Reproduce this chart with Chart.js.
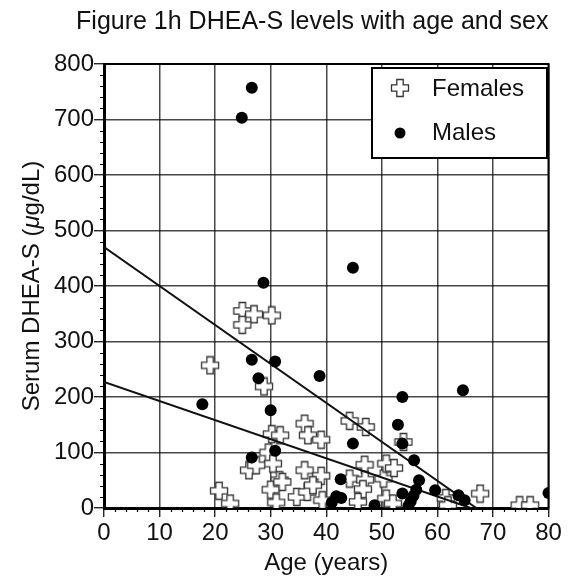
<!DOCTYPE html>
<html>
<head>
<meta charset="utf-8">
<script src="https://cdn.jsdelivr.net/npm/chart.js@4/dist/chart.umd.min.js"></script>
<style>
  html, body { margin: 0; padding: 0; background: #fff; }
  #wrap { width: 568px; height: 578px; }
</style>
</head>
<body>
<div id="wrap"><canvas id="dhea" width="568" height="578"></canvas></div>
<script>
const FONT = '"Liberation Sans", Arial, Helvetica, sans-serif';
const FS = 24;

/* ── DATA ── */
const femaleAge  = [24.9, 27.0, 30.2, 24.9, 19.1, 28.8, 30.2, 31.7, 29.6, 30.4, 26.1, 27.4, 20.7, 22.7, 31.6, 30.0, 31.0,
                    36.1, 36.7, 39.1, 44.2, 47.1, 36.1, 39.1, 46.9, 32.1, 34.7, 36.6, 37.6, 39.3, 44.2, 47.0, 46.6, 45.7,
                    50.3, 50.8, 52.2, 50.8, 52.0, 53.9, 61.5, 61.9, 67.7, 74.8, 76.7];
const femaleDhea = [355, 349, 347, 330, 257, 219, 133, 131, 100, 80, 68, 77, 31, 8, 50, 33, 10,
                    152, 131, 123, 157, 146, 68, 58, 78, 47, 20, 29, 41, 14, 53, 51, 34, 11,
                    53, 80, 72, 17, 8, 119, 18, 5, 26, 5, 5];

const maleAge  = [24.8, 26.6, 28.7, 26.6, 30.8, 27.8, 17.7, 30.0, 30.8, 26.6, 44.8, 38.8, 44.8, 53.7, 64.6, 52.9, 53.7,
                  55.8, 42.6, 56.7, 59.6, 53.7, 56.2, 55.7, 55.2, 54.8, 63.8, 64.9, 80.0, 48.7, 41.8, 42.7, 41.0];
const maleDhea = [703, 757, 406, 267, 264, 234, 187, 176, 103, 91, 433, 238, 116, 200, 212, 150, 116,
                  86, 52, 50, 32, 26, 33, 22, 12, 4, 23, 14, 27, 5, 21, 18, 10];

// regression lines (end points)
const maleFitAge   = [0, 67];
const maleFit      = [470, 0];
const femaleFitAge = [0, 66];
const femaleFit    = [227, 0];

const xTicks = [0, 10, 20, 30, 40, 50, 60, 70, 80];
const yTicks = [0, 100, 200, 300, 400, 500, 600, 700, 800];

const toPts = (xs, ys) => xs.map((x, i) => ({ x, y: ys[i] }));

/* ── OPEN PLUS MARKER ── */
function plusIcon() {
  const c = document.createElement('canvas');
  c.width = 20; c.height = 20;
  const g = c.getContext('2d');
  const m = 10, a = 3.2, l = 8.5;
  const p = [[m-a,m-l],[m+a,m-l],[m+a,m-a],[m+l,m-a],[m+l,m+a],[m+a,m+a],
             [m+a,m+l],[m-a,m+l],[m-a,m+a],[m-l,m+a],[m-l,m-a],[m-a,m-a]];
  g.beginPath();
  p.forEach(([x, y], i) => i ? g.lineTo(x, y) : g.moveTo(x, y));
  g.closePath();
  g.fillStyle = '#fff'; g.fill();
  g.strokeStyle = '#333'; g.lineWidth = 1.3; g.stroke();
  return c;
}
const plus = plusIcon();

/* ── FRAME + MINOR TICKS ── */
const frame = {
  id: 'frame',
  afterDraw(chart) {
    const { ctx, chartArea: a, scales: { x, y } } = chart;
    ctx.save();
    ctx.strokeStyle = '#000';
    ctx.lineWidth = 2;
    ctx.beginPath();
    ctx.moveTo(a.left, a.top); ctx.lineTo(a.right, a.top); ctx.lineTo(a.right, a.bottom);
    ctx.stroke();
    ctx.lineWidth = 1.2;
    ctx.beginPath();
    for (let v = 20; v < 800; v += 20) {
      if (v % 100 === 0) continue;
      const py = Math.round(y.getPixelForValue(v)) + 0.5;
      ctx.moveTo(a.left - 4, py); ctx.lineTo(a.left, py);
    }
    for (let v = 2; v < 80; v += 2) {
      if (v % 10 === 0) continue;
      const px = Math.round(x.getPixelForValue(v)) + 0.5;
      ctx.moveTo(px, a.bottom); ctx.lineTo(px, a.bottom + 4);
    }
    ctx.stroke();
    ctx.restore();
  }
};

/* ── LEGEND BOX ── */
const legendBox = {
  id: 'legendBox',
  afterDraw(chart) {
    const ctx = chart.ctx;
    ctx.save();
    ctx.fillStyle = '#fff';
    ctx.fillRect(372, 68, 175, 90);
    ctx.strokeStyle = '#000';
    ctx.lineWidth = 2;
    ctx.strokeRect(372, 68, 175, 90);
    ctx.drawImage(plus, 400 - 10, 88 - 10);
    ctx.fillStyle = '#000';
    ctx.beginPath(); ctx.arc(400, 133, 5.5, 0, Math.PI * 2); ctx.fill();
    ctx.fillStyle = '#111';
    ctx.font = FS + 'px ' + FONT;
    ctx.textBaseline = 'middle';
    ctx.fillText('Females', 432, 89);
    ctx.fillText('Males', 432, 133);
    ctx.restore();
  }
};

/* ── Y TITLE (italic mu) ── */
const yTitle = {
  id: 'yTitle',
  afterDraw(chart) {
    const ctx = chart.ctx;
    const parts = [['Serum DHEA-S (', ''], ['\u03bc', 'italic '], ['g/dL)', '']];
    ctx.save();
    ctx.translate(32, (chart.chartArea.top + chart.chartArea.bottom) / 2);
    ctx.rotate(-Math.PI / 2);
    ctx.fillStyle = '#111';
    ctx.textBaseline = 'middle';
    let total = 0;
    parts.forEach(([t, s]) => { ctx.font = s + FS + 'px ' + FONT; total += ctx.measureText(t).width; });
    let px = -total / 2;
    parts.forEach(([t, s]) => {
      ctx.font = s + FS + 'px ' + FONT;
      ctx.fillText(t, px, 0);
      px += ctx.measureText(t).width;
    });
    ctx.restore();
  }
};

const gridColor = 'rgba(0,0,0,0.72)';

new Chart(document.getElementById('dhea'), {
  type: 'scatter',
  data: {
    datasets: [
      { label: 'Males', data: toPts(maleAge, maleDhea), pointStyle: 'circle', pointRadius: 6,
        backgroundColor: '#000', borderColor: '#000', borderWidth: 0, order: 0 },
      { label: 'Males fit', data: toPts(maleFitAge, maleFit), showLine: true, pointRadius: 0,
        borderColor: '#111', borderWidth: 2, order: 1 },
      { label: 'Females fit', data: toPts(femaleFitAge, femaleFit), showLine: true, pointRadius: 0,
        borderColor: '#111', borderWidth: 2, order: 2 },
      { label: 'Females', data: toPts(femaleAge, femaleDhea), pointStyle: plus, order: 3 }
    ]
  },
  options: {
    responsive: false,
    animation: false,
    layout: { padding: { top: 0, right: 19.5, bottom: 0, left: 0 } },
    plugins: {
      legend: { display: false },
      tooltip: { enabled: false },
      title: {
        display: true, text: 'Figure 1h DHEA-S levels with age and sex',
        align: 'end', fullSize: true, color: '#111',
        font: { family: FONT, size: 25, weight: 'normal', lineHeight: 1.2 },
        padding: { top: 7, bottom: 27 }
      }
    },
    scales: {
      x: {
        type: 'linear', min: 0, max: 80,
        afterBuildTicks: s => { s.ticks = xTicks.map(v => ({ value: v })); },
        afterFit: s => { s.height = 70; },
        ticks: { color: '#111', font: { family: FONT, size: FS }, padding: 2, maxRotation: 0 },
        grid: { color: gridColor, lineWidth: 1.5, tickLength: 9, tickColor: '#000', tickWidth: 1.2 },
        border: { display: true, color: '#000', width: 3 },
        title: { display: true, text: 'Age (years)', color: '#111',
                 font: { family: FONT, size: FS, lineHeight: 1.2 }, padding: { top: 0, bottom: 0 } }
      },
      y: {
        type: 'linear', min: 0, max: 800,
        afterBuildTicks: s => { s.ticks = yTicks.map(v => ({ value: v })); },
        afterFit: s => { s.width = 104; },
        ticks: { color: '#111', font: { family: FONT, size: FS }, padding: 0 },
        grid: { color: gridColor, lineWidth: 1.5, tickLength: 10, tickColor: '#000', tickWidth: 1.2 },
        border: { display: true, color: '#000', width: 3 }
      }
    }
  },
  plugins: [frame, legendBox, yTitle]
});
</script>
</body>
</html>
